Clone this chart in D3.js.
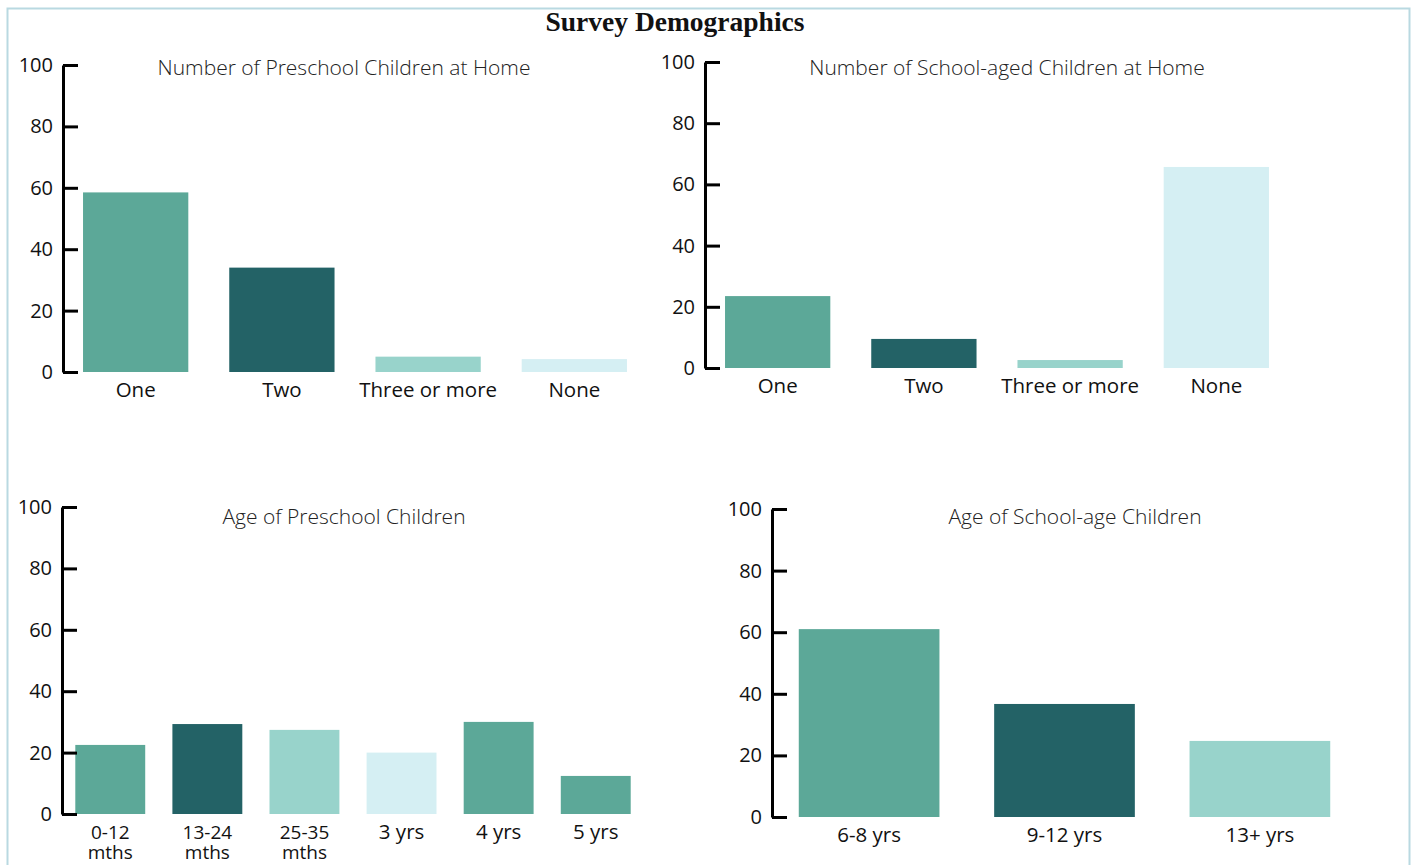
<!DOCTYPE html>
<html>
<head>
<meta charset="utf-8">
<script src="https://cdn.jsdelivr.net/npm/d3@7"></script>
<style>
  html, body { margin: 0; padding: 0; background: #fff; }
  svg { display: block; }
  .cat text, .yax text { font-family: "Open Sans", sans-serif; fill: #111; }
  .ptitle { font-family: "Open Sans", sans-serif; font-weight: 300; fill: #222; }
</style>
</head>
<body>
<svg id="chart" width="1419" height="865"></svg>
<script>
// Survey responses (% of respondents)
const preschoolCountCategories = ["One", "Two", "Three or more", "None"];
const preschoolCountValues = [58.5, 34, 5, 4.2];

const schoolCountCategories = ["One", "Two", "Three or more", "None"];
const schoolCountValues = [23.5, 9.5, 2.6, 65.7];

const preschoolAgeCategories = ["0-12\nmths", "13-24\nmths", "25-35\nmths", "3 yrs", "4 yrs", "5 yrs"];
const preschoolAgeValues = [22.5, 29.3, 27.4, 20, 30, 12.4];

const schoolAgeCategories = ["6-8 yrs", "9-12 yrs", "13+ yrs"];
const schoolAgeValues = [61, 36.7, 24.7];

const yTicks = [0, 20, 40, 60, 80, 100];

// Palette
const TEAL = "#5ca898", DARK = "#236266", LIGHT = "#98d3cb", PALE = "#d5eff3";

const svg = d3.select("#chart");

// Outer frame
svg.append("rect")
  .attr("x", 7.5).attr("y", 8.5)
  .attr("width", 1402).attr("height", 900)
  .attr("fill", "none").attr("stroke", "#b9d9e1").attr("stroke-width", 2);

svg.append("text")
  .attr("x", 675).attr("y", 31)
  .attr("text-anchor", "middle")
  .style("font-family", "'Liberation Serif', serif")
  .style("font-weight", "bold")
  .style("font-size", "27.5px")
  .attr("fill", "#111")
  .text("Survey Demographics");

const panels = [
  { title: "Number of Preschool Children at Home", cats: preschoolCountCategories, vals: preschoolCountValues,
    colors: [TEAL, DARK, LIGHT, PALE], xr: [63, 647], yr: [372, 65], tx: 344, ty: 75 },
  { title: "Number of School-aged Children at Home", cats: schoolCountCategories, vals: schoolCountValues,
    colors: [TEAL, DARK, LIGHT, PALE], xr: [705, 1289], yr: [368, 62], tx: 1007, ty: 75 },
  { title: "Age of Preschool Children", cats: preschoolAgeCategories, vals: preschoolAgeValues,
    colors: [TEAL, DARK, LIGHT, PALE, TEAL, TEAL], xr: [62, 644], yr: [814, 507], tx: 344, ty: 524 },
  { title: "Age of School-age Children", cats: schoolAgeCategories, vals: schoolAgeValues,
    colors: [TEAL, DARK, LIGHT], xr: [772, 1357], yr: [817, 509], tx: 1075, ty: 524 }
];

panels.forEach(p => {
  const x = d3.scaleBand().domain(p.cats).range(p.xr).paddingInner(0.28).paddingOuter(0.137);
  const y = d3.scaleLinear().domain([0, 100]).range(p.yr);
  const g = svg.append("g");

  g.selectAll("rect.bar").data(p.cats).join("rect")
    .attr("class", "bar")
    .attr("x", d => x(d))
    .attr("width", x.bandwidth())
    .attr("y", (d, i) => y(p.vals[i]))
    .attr("height", (d, i) => y(0) - y(p.vals[i]))
    .attr("fill", (d, i) => p.colors[i]);

  // Y axis with inward ticks
  const yAxis = g.append("g").attr("class", "yax")
    .attr("transform", `translate(${p.xr[0]},0)`)
    .call(d3.axisLeft(y).tickValues(yTicks).tickSizeInner(-15).tickSizeOuter(0).tickPadding(10));
  yAxis.select(".domain").attr("stroke", "#000").attr("stroke-width", 3);
  yAxis.selectAll(".tick line").attr("stroke", "#000").attr("stroke-width", 3);
  yAxis.selectAll(".tick text").style("font-size", "20px");

  // Category labels
  const xAxis = g.append("g").attr("class", "cat")
    .attr("transform", `translate(0,${p.yr[0]})`)
    .call(d3.axisBottom(x).tickSize(0).tickPadding(0));
  xAxis.select(".domain").remove();
  xAxis.selectAll(".tick text")
    .attr("dy", null)
    .attr("y", 0)
    .each(function(d) {
      const t = d3.select(this);
      const lines = d.split("\n");
      t.style("font-size", lines.length > 1 ? "19px" : "20.5px");
      t.text(null);
      lines.forEach((ln, k) => {
        t.append("tspan").attr("x", 0).attr("y", 25 + k * 20).text(ln);
      });
    });

  g.append("text").attr("class", "ptitle")
    .attr("x", p.tx).attr("y", p.ty)
    .attr("text-anchor", "middle")
    .style("font-size", "21px")
    .text(p.title);
});
</script>
</body>
</html>
